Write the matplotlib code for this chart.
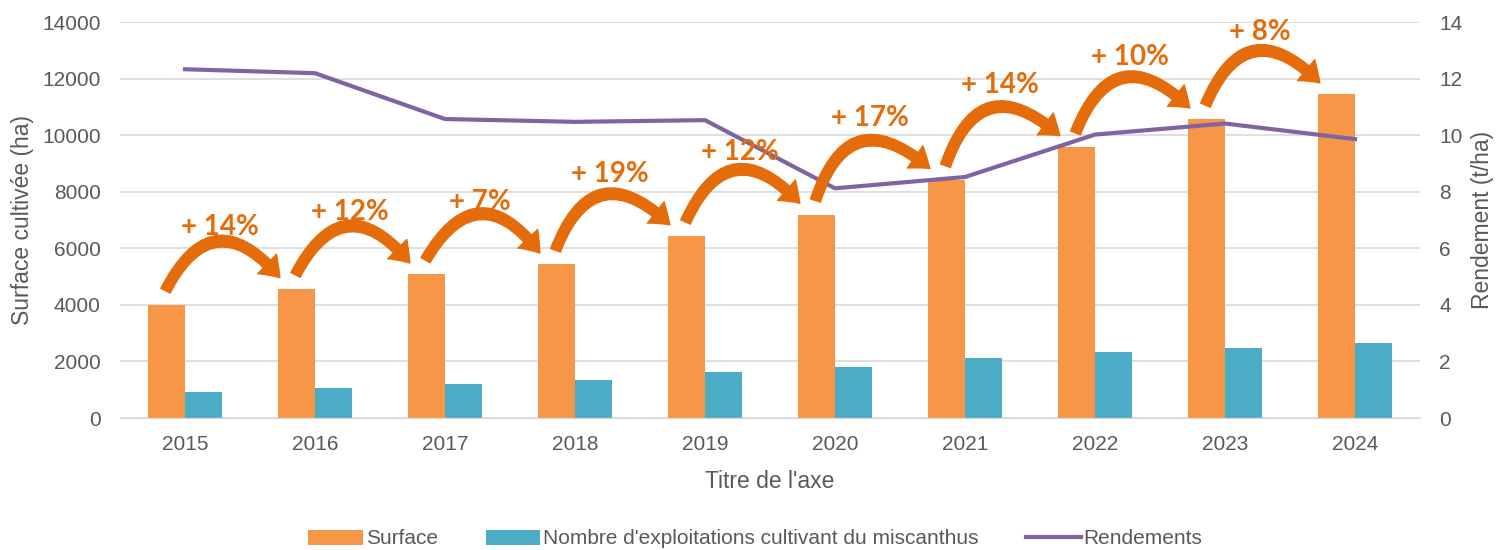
import numpy as np
import matplotlib.pyplot as plt

# data
years = ['2015', '2016', '2017', '2018', '2019', '2020', '2021', '2022', '2023', '2024']
surface = [4000, 4560, 5080, 5430, 6430, 7190, 8420, 9580, 10560, 11450]
exploitations = [930, 1070, 1200, 1340, 1630, 1800, 2110, 2330, 2470, 2650]
rendements = [12.33, 12.19, 10.57, 10.47, 10.53, 8.12, 8.52, 10.02, 10.41, 9.86]
hausses = ['+ 14%', '+ 12%', '+ 7%', '+ 19%', '+ 12%', '+ 17%', '+ 14%', '+ 10%', '+ 8%']

c_orange = '#F79646'
c_blue = '#4BACC6'
c_purple = '#8064A2'
c_arrow = '#E46C0A'
c_text = '#595959'
c_grid = '#D9D9D9'

plt.rcParams['font.family'] = ['Liberation Sans', 'DejaVu Sans']

fig = plt.figure(figsize=(14.96, 5.5), dpi=100)
ax = fig.add_axes([120/1496, 1-418/550, 1300/1496, 396/550])
ax2 = ax.twinx()

x = np.arange(len(years))
w = 0.285
ax.bar(x - w/2, surface, w, color=c_orange, label='Surface', zorder=2)
ax.bar(x + w/2, exploitations, w, color=c_blue,
       label="Nombre d'exploitations cultivant du miscanthus", zorder=2)
ax2.plot(x, rendements, color=c_purple, lw=3, label='Rendements', zorder=3)

ax.set_xlim(-0.5, len(years) - 0.5)
ax.set_ylim(0, 14000)
ax2.set_ylim(0, 14)
ax.set_yticks(np.arange(0, 14001, 2000))
ax2.set_yticks(np.arange(0, 15, 2))
ax.set_xticks(x)
ax.set_xticklabels(years)
ax.yaxis.grid(True, color=c_grid, lw=1.2, zorder=0)
ax.set_axisbelow(True)

for a in (ax, ax2):
    for s in ('top', 'left', 'right'):
        a.spines[s].set_visible(False)
    a.spines['bottom'].set_color(c_grid)
    a.tick_params(colors=c_text, labelsize=15, length=0)
ax.tick_params(axis='y', pad=14)
ax2.tick_params(axis='y', pad=14)
ax.tick_params(axis='x', pad=12)

ax.set_ylabel('Surface cultivée (ha)', fontsize=16.5, color=c_text, labelpad=6)
ax2.set_ylabel('Rendement (t/ha)', fontsize=16.5, color=c_text, rotation=90, labelpad=6)
ax.set_xlabel("Titre de l'axe", fontsize=16.5, color=c_text, labelpad=12)

# growth arrows between consecutive bars
for i, lab in enumerate(hausses):
    start = (i - 0.15, surface[i] + 500)
    end = (i + 1 - 0.27, surface[i + 1] + 400)
    ax2.annotate('', xy=end, xytext=start, xycoords=ax.transData, textcoords=ax.transData,
                 arrowprops=dict(arrowstyle='simple,head_length=0.9,head_width=1.3,tail_width=0.5',
                                 connectionstyle='arc3,rad=-0.75', color=c_arrow,
                                 mutation_scale=15, shrinkA=0, shrinkB=0), zorder=4)
    ax2.text(i + 0.27, max(surface[i], surface[i + 1]) + 2200, lab, transform=ax.transData,
             ha='center', va='center', fontsize=20, fontweight='bold', color=c_arrow,
             family=['Lato', 'DejaVu Sans'], zorder=5)

h1, l1 = ax.get_legend_handles_labels()
h2, l2 = ax2.get_legend_handles_labels()
fig.legend(h1 + h2, l1 + l2, loc='center', bbox_to_anchor=(0.505, 0.02), ncol=3,
           frameon=False, fontsize=15, labelcolor=c_text, handlelength=2.6,
           handletextpad=0.15, columnspacing=2.3)

fig.savefig('out.png', dpi=100)
